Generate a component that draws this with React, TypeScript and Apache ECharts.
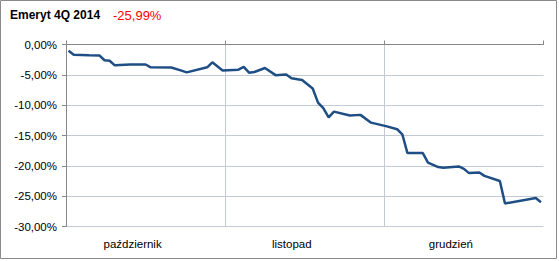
import React, { useEffect, useRef } from "react";
import * as echarts from "echarts";

const titleText = "Emeryt 4Q 2014";
const resultText = "-25,99%";

const monthLabels = ["październik", "listopad", "grudzień"];

const dates = [
  "2014-10-01", "2014-10-02", "2014-10-05", "2014-10-07", "2014-10-08", "2014-10-09",
  "2014-10-10", "2014-10-13", "2014-10-16", "2014-10-17", "2014-10-21", "2014-10-23",
  "2014-10-24", "2014-10-28", "2014-10-29", "2014-10-31", "2014-11-03", "2014-11-04",
  "2014-11-05", "2014-11-06", "2014-11-08", "2014-11-10", "2014-11-12", "2014-11-13",
  "2014-11-15", "2014-11-17", "2014-11-18", "2014-11-19", "2014-11-20", "2014-11-21",
  "2014-11-24", "2014-11-26", "2014-11-28", "2014-12-01", "2014-12-03", "2014-12-04",
  "2014-12-05", "2014-12-08", "2014-12-09", "2014-12-11", "2014-12-12", "2014-12-15",
  "2014-12-16", "2014-12-17", "2014-12-19", "2014-12-20", "2014-12-23", "2014-12-24",
  "2014-12-30", "2014-12-31",
];

const values = [
  -1.02, -1.68, -1.78, -1.8, -2.6, -2.67,
  -3.43, -3.3, -3.3, -3.76, -3.8, -4.3,
  -4.6, -3.76, -2.94, -4.28, -4.15, -3.7,
  -4.64, -4.53, -3.87, -5.05, -4.95, -5.57,
  -5.85, -7.25, -9.58, -10.5, -12.0, -11.07,
  -11.7, -11.6, -12.88, -13.5, -13.97, -14.8,
  -17.9, -17.9, -19.47, -20.2, -20.3, -20.1,
  -20.5, -21.2, -21.1, -21.66, -22.5, -26.2,
  -25.3, -25.99,
];

const yMin = -30;
const yMax = 0;
const yStep = 5;

function dateToMonthPos(d: string): number {
  const [y, m, day] = d.split("-").map(Number);
  const monthIndex = m - 10;
  const daysInMonth = new Date(y, m, 0).getDate();
  return monthIndex + (day - 0.5) / daysInMonth;
}

function fmtPct(v: number): string {
  return v.toFixed(2).replace(".", ",") + "%";
}

export default function App() {
  const ref = useRef<HTMLDivElement>(null);
  useEffect(() => {
    if (!ref.current) return;
    const chart = echarts.init(ref.current, undefined, { renderer: "svg" });
    const font = "'Liberation Sans', Arial, sans-serif";
    chart.setOption({
      animation: false,
      backgroundColor: "#ffffff",
      textStyle: { fontFamily: font },
      graphic: [
        {
          type: "rect",
          shape: { x: 0.5, y: 0.5, width: 556, height: 258 },
          style: { fill: "none", stroke: "#8a8a8a", lineWidth: 1 },
          silent: true,
        },
        {
          type: "text",
          left: 10,
          top: 9,
          style: {
            text: titleText,
            font: `bold 12px ${font}`,
            fill: "#000000",
          },
        },
        {
          type: "text",
          left: 113,
          top: 8.5,
          style: {
            text: resultText,
            font: `13px ${font}`,
            fill: "#ff0000",
          },
        },
      ],
      grid: { left: 66, right: 15.5, top: 44.5, bottom: 34.5, containLabel: false },
      xAxis: [
        {
          type: "value",
          position: "top",
          min: 0,
          max: 3,
          interval: 1,
          axisLine: { show: true, lineStyle: { color: "#878787", width: 1 } },
          axisTick: { show: true, length: 4, inside: false, lineStyle: { color: "#878787" } },
          axisLabel: { show: false },
          splitLine: {
            show: true,
            showMinLine: false,
            showMaxLine: false,
            lineStyle: { color: "#c3cad6", width: 1 },
          },
        },
        {
          type: "category",
          position: "bottom",
          data: monthLabels,
          boundaryGap: true,
          axisLine: { show: false },
          axisTick: { show: false },
          splitLine: { show: false },
          axisLabel: {
            show: true,
            color: "#000000",
            fontSize: 11.5,
            fontFamily: font,
            margin: 11,
            padding: [0, 26, 0, 0],
          },
        },
      ],
      yAxis: {
        type: "value",
        min: yMin,
        max: yMax,
        interval: yStep,
        axisLine: { show: true, lineStyle: { color: "#878787", width: 1 } },
        axisTick: { show: true, length: 4, lineStyle: { color: "#878787" } },
        axisLabel: {
          color: "#000000",
          fontSize: 11.5,
          fontFamily: font,
          margin: 9,
          formatter: (v: number) => fmtPct(v),
        },
        splitLine: { show: true, lineStyle: { color: "#c3cad6", width: 1 } },
      },
      series: [
        {
          type: "line",
          xAxisIndex: 0,
          showSymbol: false,
          symbol: "none",
          lineStyle: { color: "#1f4e85", width: 2.5 },
          data: dates.map((d, i) => [dateToMonthPos(d), values[i]]),
        },
      ],
    });
    return () => chart.dispose();
  }, []);
  return (
    <div
      ref={ref}
      style={{ position: "absolute", left: 0, top: 0, width: 559, height: 261 }}
    />
  );
}
